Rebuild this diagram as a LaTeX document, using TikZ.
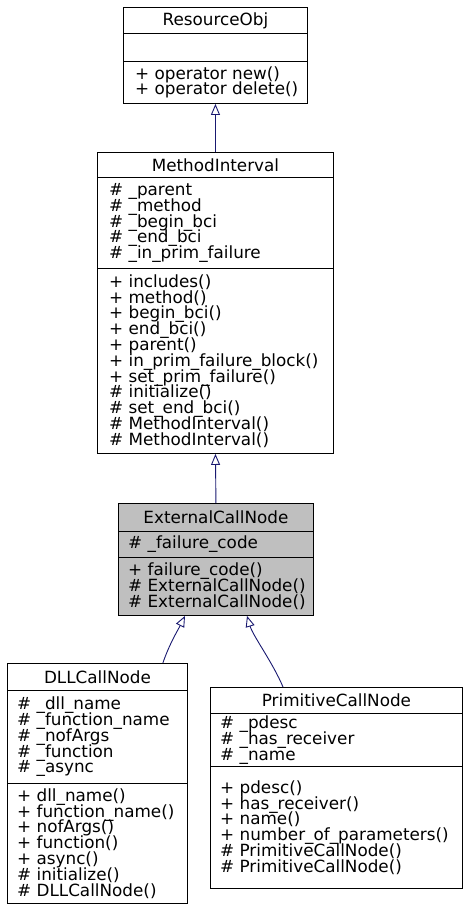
\documentclass[tikz,border=0pt]{standalone}
\usepackage{fontspec}
\setmainfont{DejaVu Sans}
\usetikzlibrary{arrows.meta}
\definecolor{edgeblue}{HTML}{191970}
\definecolor{ecngray}{HTML}{BFBFBF}
\newcommand{\umlfont}{\fontsize{16.8}{15.8}\selectfont\lineskiplimit=-30pt\relax\lineskip=0pt\relax}
\begin{document}
\begin{tikzpicture}[x=1pt,y=-1pt,
  txt/.style={inner sep=0pt, font=\umlfont},
  part/.style={draw=black, line width=0.9pt, inner sep=0pt, anchor=north west, txt},
  members/.style={txt, align=left, anchor=west},
  inh/.style={draw=edgeblue, line width=0.9pt, -{Triangle[open, length=11pt, width=9pt]}}]
\useasboundingbox (0,0) rectangle (468,911);

% ResourceObj
\node[part, minimum width=184, minimum height=26] (ro) at (123,7) {ResourceObj};
\node[part, minimum width=184, minimum height=28] (roa) at (123,33) {};
\node[part, minimum width=184, minimum height=42] (rom) at (123,61) {};
\node[members] (romt) at ([xshift=12pt]rom.west) {+ operator new()\\+ operator delete()};

% MethodInterval
\node[part, minimum width=236, minimum height=25] (mi) at (97,152) {MethodInterval};
\node[part, minimum width=236, minimum height=91] (mia) at (97,177) {};
\node[members] (miat) at ([xshift=12pt]mia.west)
  {\# \_parent\\\# \_method\\\# \_begin\_bci\\\# \_end\_bci\\\# \_in\_prim\_failure};
\node[part, minimum width=236, minimum height=185] (mim) at (97,268) {};
\node[members] (mimt) at ([xshift=12pt]mim.west)
  {+ includes()\\+ method()\\+ begin\_bci()\\+ end\_bci()\\+ parent()\\+ in\_prim\_failure\_block()\\+ set\_prim\_failure()\\\# initialize()\\\# set\_end\_bci()\\\# MethodInterval()\\\# MethodInterval()};

% ExternalCallNode
\node[part, fill=ecngray, minimum width=195, minimum height=28] (ecn) at (118,503) {ExternalCallNode};
\node[part, fill=ecngray, minimum width=195, minimum height=26] (ecna) at (118,531) {};
\node[members] (ecnat) at ([xshift=10pt]ecna.west) {\# \_failure\_code};
\node[part, fill=ecngray, minimum width=195, minimum height=58] (ecnm) at (118,557) {};
\node[members] (ecnmt) at ([xshift=10pt]ecnm.west)
  {+ failure\_code()\\\# ExternalCallNode()\\\# ExternalCallNode()};

% DLLCallNode
\node[part, minimum width=180, minimum height=27] (dll) at (7,663) {DLLCallNode};
\node[part, minimum width=180, minimum height=93] (dlla) at (7,690) {};
\node[members] (dllat) at ([xshift=10pt]dlla.west)
  {\# \_dll\_name\\\# \_function\_name\\\# \_nofArgs\\\# \_function\\\# \_async};
\node[part, minimum width=180, minimum height=120] (dllm) at (7,783) {};
\node[members] (dllmt) at ([xshift=10pt]dllm.west)
  {+ dll\_name()\\+ function\_name()\\+ nofArgs()\\+ function()\\+ async()\\\# initialize()\\\# DLLCallNode()};

% PrimitiveCallNode
\node[part, minimum width=252, minimum height=26] (pcn) at (210,687) {PrimitiveCallNode};
\node[part, minimum width=252, minimum height=53] (pcna) at (210,713) {};
\node[members] (pcnat) at ([xshift=10pt]pcna.west)
  {\# \_pdesc\\\# \_has\_receiver\\\# \_name};
\node[part, minimum width=252, minimum height=122] (pcnm) at (210,766) {};
\node[members] (pcnmt) at ([xshift=10pt]pcnm.west)
  {+ pdesc()\\+ has\_receiver()\\+ name()\\+ number\_of\_parameters()\\\# PrimitiveCallNode()\\\# PrimitiveCallNode()};

% inheritance
\draw[inh] (mi.north) -- (rom.south);
\draw[inh] (ecn.north) -- (mim.south);
\draw[inh] ([xshift=-25pt]dll.north east) .. controls +(6,-18) and +(-7,14) .. ([xshift=67pt]ecnm.south west);
\draw[inh] ([xshift=73pt]pcn.north west) .. controls +(-10,-24) and +(6,20) .. ([xshift=129pt]ecnm.south west);
\end{tikzpicture}
\end{document}
